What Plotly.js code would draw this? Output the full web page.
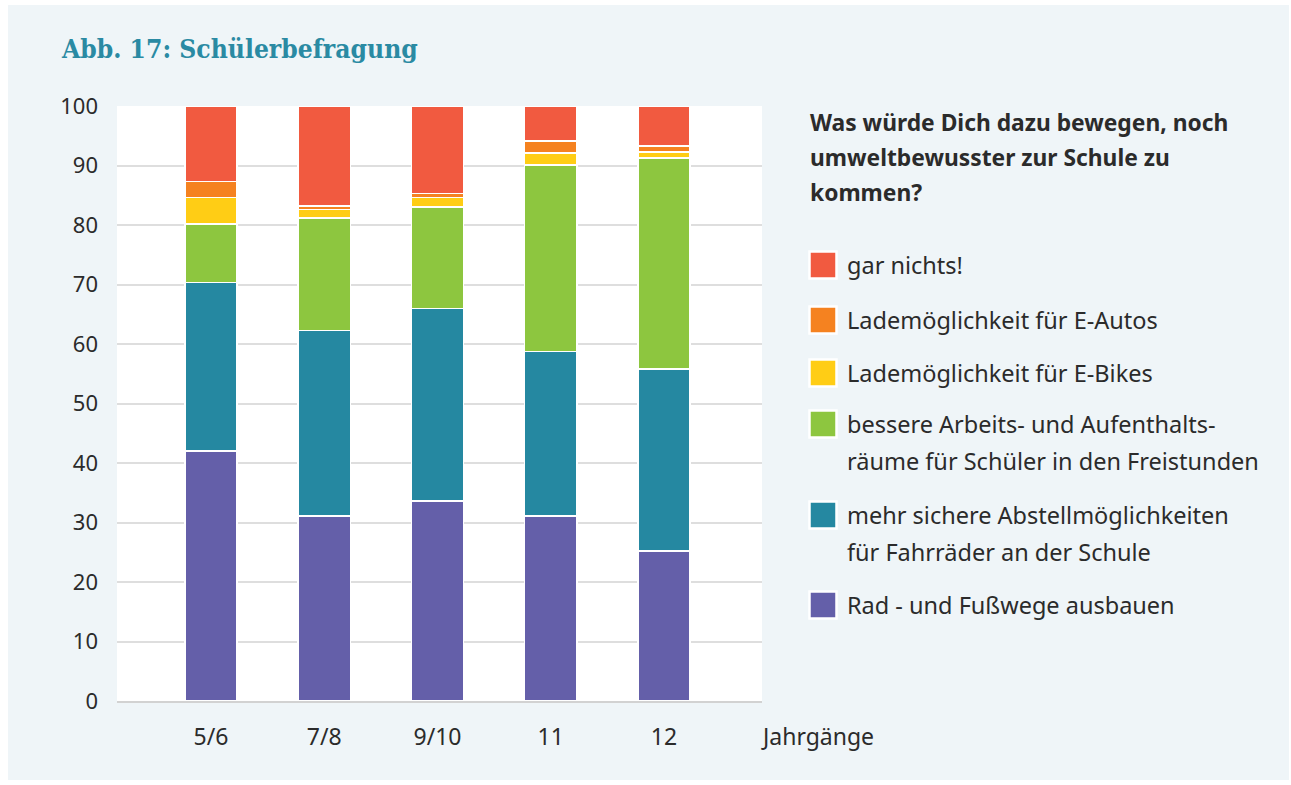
<!DOCTYPE html>
<html>
<head>
<meta charset="utf-8">
<script src="https://cdn.plot.ly/plotly-3.0.1.min.js"></script>
<style>
  html, body { margin: 0; padding: 0; background: #ffffff; width: 1291px; height: 785px; overflow: hidden; }
  #chart { position: absolute; left: 8px; top: 5px; width: 1281px; height: 775px; }
</style>
</head>
<body>
<div id="chart"></div>
<script>
// ---- data ----
const categories = ["5/6", "7/8", "9/10", "11", "12"];
const radFusswege      = [42.0, 31.1, 33.6, 31.1, 25.2];
const abstellPlaetze   = [28.3, 31.2, 32.4, 27.6, 30.6];
const aufenthaltsraeume= [ 9.9, 18.9, 17.0, 31.4, 35.5];
const ladenEBikes      = [ 4.4,  1.4,  1.6,  2.0,  1.0];
const ladenEAutos      = [ 2.7,  0.6,  0.7,  2.0,  1.0];
const garNichts        = [12.7, 16.8, 14.7,  5.9,  6.7];

const seriesNames = [
  "Rad - und Fußwege ausbauen",
  "mehr sichere Abstellmöglichkeiten<br>für Fahrräder an der Schule",
  "bessere Arbeits- und Aufenthalts-<br>räume für Schüler in den Freistunden",
  "Lademöglichkeit für E-Bikes",
  "Lademöglichkeit für E-Autos",
  "gar nichts!"
];
const seriesValues = [radFusswege, abstellPlaetze, aufenthaltsraeume, ladenEBikes, ladenEAutos, garNichts];
const seriesColors = ["#645fa9", "#2588a1", "#8dc63f", "#ffcd15", "#f58220", "#f15a40"];
const legendTitle = "Was würde Dich dazu bewegen, noch<br>umweltbewusster zur Schule zu<br>kommen?";
const chartTitle = "Abb. 17: Schülerbefragung";
const xAxisLabel = "Jahrgänge";

// ---- layout helpers (page pixels -> paper coords) ----
const DIV_L = 8, DIV_T = 5, ML = 109, MT = 101, PW = 645, PH = 595;
const px = x => (x - DIV_L - ML) / PW;
const py = y => (DIV_T + MT + PH - y) / PH;

const FONT = "'Noto Sans', 'Open Sans', sans-serif";
const TXT = "#2b2b2b";

const traces = seriesValues.map((vals, i) => ({
  type: "bar",
  x: categories,
  y: vals,
  name: seriesNames[i].replace("<br>", " "),
  marker: { color: seriesColors[i], line: { color: "#ffffff", width: 1.5 } },
  hoverinfo: "x+y+name",
  showlegend: false
}));

// legend (drawn manually, top entry first)
const legendOrder = [5, 4, 3, 2, 1, 0];
const legendCenters = [265, 320, 373, 424, 515, 605];
const shapes = [];
const annotations = [];
legendOrder.forEach((si, k) => {
  const cy = legendCenters[k];
  shapes.push({
    type: "rect", xref: "paper", yref: "paper",
    x0: px(809.5), x1: px(836.5), y0: py(cy + 13.5), y1: py(cy - 13.5),
    fillcolor: seriesColors[si], line: { color: "#ffffff", width: 2.5 }, layer: "above"
  });
  seriesNames[si].split("<br>").forEach((line, j) => {
    annotations.push({
      xref: "paper", yref: "paper", x: px(845), y: py(cy + j * 37),
      xanchor: "left", yanchor: "middle", align: "left", showarrow: false,
      text: line, font: { family: FONT, size: 23.5, color: TXT }
    });
  });
});
legendTitle.split("<br>").forEach((line, j) => {
  annotations.push({
    xref: "paper", yref: "paper", x: px(808), y: py(122 + j * 35),
    xanchor: "left", yanchor: "middle", align: "left", showarrow: false,
    text: "<b>" + line + "</b>", font: { family: FONT, size: 22.8, color: TXT }
  });
});
annotations.push({
  xref: "paper", yref: "paper", x: 1, y: 0, yshift: -35, xshift: -3,
  xanchor: "left", yanchor: "middle", showarrow: false,
  text: xAxisLabel, font: { family: FONT, size: 23, color: TXT }
});

const layout = {
  width: 1281, height: 775,
  paper_bgcolor: "#eff5f8",
  plot_bgcolor: "#ffffff",
  margin: { l: ML, r: 1281 - ML - PW, t: MT, b: 775 - MT - PH, pad: 0 },
  barmode: "stack",
  bargap: 0.54,
  title: {
    text: "<b>" + chartTitle + "</b>",
    xref: "container", yref: "container",
    x: 54 / 1281, xanchor: "left",
    y: 1 - 44 / 775, yanchor: "middle",
    font: { family: "'DejaVu Serif Condensed', 'DejaVu Serif', serif", size: 26.2, color: "#2a8aa3" }
  },
  xaxis: {
    type: "category",
    categoryorder: "array", categoryarray: categories,
    range: [-0.83, 4.865],
    showline: true, linecolor: "#d2d2d2", linewidth: 2,
    showgrid: false, zeroline: false, ticks: "",
    ticklabelstandoff: 14,
    tickfont: { family: FONT, size: 23, color: TXT },
    fixedrange: true
  },
  yaxis: {
    range: [0, 100], dtick: 10, tick0: 0,
    showgrid: true, gridcolor: "#dedede", gridwidth: 2,
    zeroline: false, showline: false, ticks: "",
    ticklabelstandoff: 18,
    tickfont: { family: FONT, size: 22, color: TXT },
    fixedrange: true
  },
  shapes: shapes,
  annotations: annotations,
  showlegend: false
};

Plotly.newPlot("chart", traces, layout, { displayModeBar: false });
</script>
</body>
</html>
